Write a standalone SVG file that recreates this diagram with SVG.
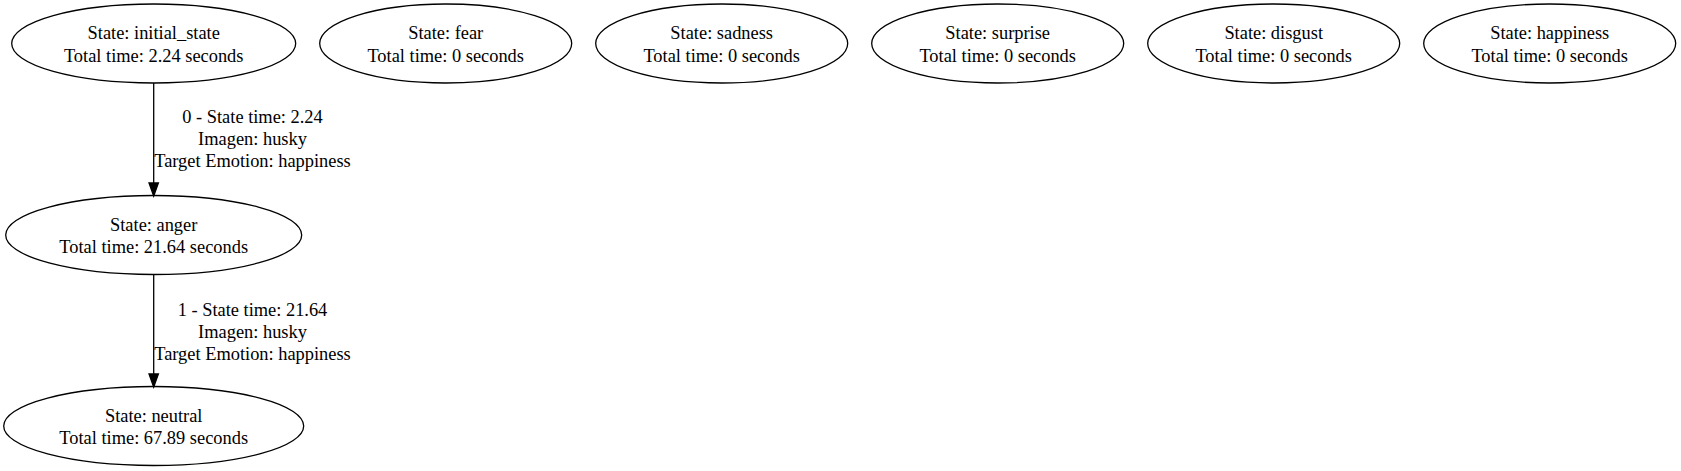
<svg xmlns="http://www.w3.org/2000/svg" width="1681" height="471" viewBox="0 0 1681 471">
<style>
.n ellipse{fill:none;stroke:#000;stroke-width:1.3}
text{font-family:"Liberation Serif","Times New Roman",serif;font-size:18.4px;fill:#000;text-anchor:middle}
.e line{stroke:#000;stroke-width:1.3}
.e polygon{fill:#000;stroke:#000;stroke-width:1.3}
</style>
<rect width="1681" height="471" fill="#fff"/>
<g id="node-initial_state" class="n">
<ellipse cx="153.7" cy="43.5" rx="142" ry="39.5"/>
<text x="153.7" y="39.2">State: initial_state</text>
<text x="153.7" y="61.5">Total time: 2.24 seconds</text>
</g>
<g id="node-fear" class="n">
<ellipse cx="445.7" cy="43.5" rx="126" ry="39.5"/>
<text x="445.7" y="39.2">State: fear</text>
<text x="445.7" y="61.5">Total time: 0 seconds</text>
</g>
<g id="node-sadness" class="n">
<ellipse cx="721.7" cy="43.5" rx="126" ry="39.5"/>
<text x="721.7" y="39.2">State: sadness</text>
<text x="721.7" y="61.5">Total time: 0 seconds</text>
</g>
<g id="node-surprise" class="n">
<ellipse cx="997.7" cy="43.5" rx="126" ry="39.5"/>
<text x="997.7" y="39.2">State: surprise</text>
<text x="997.7" y="61.5">Total time: 0 seconds</text>
</g>
<g id="node-disgust" class="n">
<ellipse cx="1273.7" cy="43.5" rx="126" ry="39.5"/>
<text x="1273.7" y="39.2">State: disgust</text>
<text x="1273.7" y="61.5">Total time: 0 seconds</text>
</g>
<g id="node-happiness" class="n">
<ellipse cx="1549.7" cy="43.5" rx="126" ry="39.5"/>
<text x="1549.7" y="39.2">State: happiness</text>
<text x="1549.7" y="61.5">Total time: 0 seconds</text>
</g>
<g id="node-anger" class="n">
<ellipse cx="153.7" cy="235" rx="148" ry="39.5"/>
<text x="153.7" y="230.7">State: anger</text>
<text x="153.7" y="253">Total time: 21.64 seconds</text>
</g>
<g id="node-neutral" class="n">
<ellipse cx="153.7" cy="426" rx="150" ry="39.5"/>
<text x="153.7" y="421.7">State: neutral</text>
<text x="153.7" y="444">Total time: 67.89 seconds</text>
</g>
<g id="edges" class="e">
<g id="edge-0">
<line x1="153.7" y1="83" x2="153.7" y2="183"/>
<polygon points="149,183 158.4,183 153.7,196"/>
<text x="252.5" y="123.3">0 - State time: 2.24</text>
<text x="252.5" y="145.3">Imagen: husky</text>
<text x="252.5" y="167.3">Target Emotion: happiness</text>
</g>
<g id="edge-1">
<line x1="153.7" y1="274.5" x2="153.7" y2="374"/>
<polygon points="149,374 158.4,374 153.7,387"/>
<text x="252.5" y="316">1 - State time: 21.64</text>
<text x="252.5" y="338">Imagen: husky</text>
<text x="252.5" y="360">Target Emotion: happiness</text>
</g>
</g>
</svg>
